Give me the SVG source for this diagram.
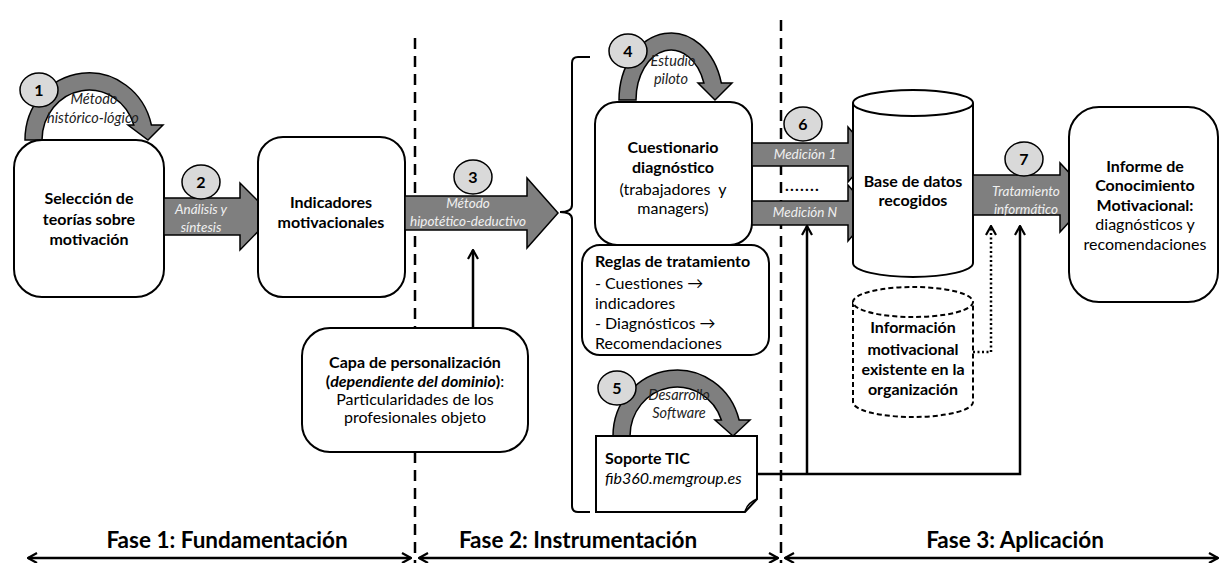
<svg xmlns="http://www.w3.org/2000/svg" width="1221" height="563" viewBox="0 0 1221 563">
<defs>
<style>
text{font-family:Lato,"DejaVu Sans",sans-serif;fill:#000}
.b{font-weight:bold;font-size:16px}
.r{font-size:16px}
.c{text-anchor:middle}
.al{font-style:italic;font-size:13.5px;fill:#f0f0f0}
.dl{font-style:italic;font-size:14.5px;fill:#222}
.num{font-weight:bold;font-size:16px;text-anchor:middle}
.ph{font-weight:bold;font-size:22.5px;text-anchor:middle}
.box{fill:#fff;stroke:#000;stroke-width:2}
.arw{fill:#7f7f7f;stroke:#000;stroke-width:1.5;stroke-linejoin:miter}
.circ{fill:#d9d9d9;stroke:#000;stroke-width:1.5}
.dash{fill:none;stroke:#000;stroke-width:2.5;stroke-dasharray:11,7}
.ln{fill:none;stroke:#000;stroke-width:2.5}
</style>
<marker id="ah" viewBox="0 0 12 12" refX="11" refY="6" markerWidth="12" markerHeight="12" markerUnits="userSpaceOnUse" orient="auto-start-reverse">
<path d="M2,1 L11,6 L2,11" fill="none" stroke="#000" stroke-width="2.2"/>
</marker>
</defs>
<rect width="1221" height="563" fill="#fff"/>

<g id="phase-lines">
<line class="dash" x1="415" y1="38" x2="415" y2="563"/>
<line class="dash" x1="781" y1="20" x2="781" y2="563"/>
</g>

<g id="connectors">
<line class="ln" x1="473" y1="328" x2="473" y2="250" marker-end="url(#ah)"/>
<polyline class="ln" points="757,474 1020,474 1020,226" marker-end="url(#ah)"/>
<line class="ln" x1="807" y1="474" x2="807" y2="226" marker-end="url(#ah)"/>
<polyline points="973,352 991,352 991,226" fill="none" stroke="#000" stroke-width="2.5" stroke-dasharray="2,2.5" marker-end="url(#ah)"/>
<path d="M590,57 H578 Q572,57 572,63 V205 Q572,212 560,212 Q572,212 572,219 V506 Q572,512 578,512 H590" fill="none" stroke="#000" stroke-width="2"/>
<line class="ln" x1="28" y1="558" x2="411" y2="558" stroke-width="2" marker-start="url(#ah)" marker-end="url(#ah)"/>
<line class="ln" x1="419" y1="558" x2="778" y2="558" stroke-width="2" marker-start="url(#ah)" marker-end="url(#ah)"/>
<line class="ln" x1="785" y1="558" x2="1218" y2="558" stroke-width="2" marker-start="url(#ah)" marker-end="url(#ah)"/>
</g>

<g id="arrow1">
<path class="arw" d="M25,140 A64,67 0 0 1 151.4,125 L163,125 L148,140 L128,125 L133.8,125 A47,50 0 0 0 42,140 Z"/>
<text class="dl c" x="94" y="104">Método</text>
<text class="dl c" x="93" y="123">histórico-lógico</text>
<ellipse class="circ" cx="39" cy="90" rx="19" ry="17"/>
<text class="num" x="39" y="95.5">1</text>
</g>

<g id="n-seleccion">
<rect class="box" x="14" y="140" width="150" height="157" rx="28"/>
<text class="b c" x="89" y="204">Selección de</text>
<text class="b c" x="89" y="225">teorías sobre</text>
<text class="b c" x="89" y="245">motivación</text>
</g>

<g id="arrow2">
<path class="arw" d="M164,198 H240 V183 L273,216 L240,250 V235 H164 Z"/>
<text class="al c" x="201" y="214">Análisis y</text>
<text class="al c" x="201" y="232">síntesis</text>
<ellipse class="circ" cx="201" cy="182" rx="19" ry="17"/>
<text class="num" x="201" y="187.5">2</text>
</g>

<g id="n-indicadores">
<rect class="box" x="258" y="137" width="147" height="160" rx="25"/>
<text class="b c" x="331" y="208">Indicadores</text>
<text class="b c" x="331" y="228">motivacionales</text>
</g>

<g id="arrow3">
<path class="arw" d="M405,196 H527 V178 L558,213 L527,248 V230 H405 Z"/>
<text class="al c" x="468" y="208">Método</text>
<text class="al c" x="468" y="226">hipotético-deductivo</text>
<ellipse class="circ" cx="473" cy="177" rx="19" ry="17"/>
<text class="num" x="473" y="182.5">3</text>
</g>

<g id="n-capa">
<rect class="box" x="302" y="328" width="226" height="124" rx="28"/>
<text class="b c" x="415" y="368">Capa de personalización</text>
<text class="r c" x="415" y="387"><tspan font-weight="bold">(</tspan><tspan font-weight="bold" font-style="italic">dependiente  del dominio</tspan><tspan font-weight="bold">)</tspan>:</text>
<text class="r c" x="415" y="405">Particularidades de los</text>
<text class="r c" x="415" y="423">profesionales objeto</text>
</g>

<g id="arrow4">
<path class="arw" d="M619,100 A52,67 0 0 1 721.3,83 L732,83 L715,100 L698,83 L703.9,83 A35,50 0 0 0 636,100 Z"/>
<text class="dl c" x="673" y="66">Estudio</text>
<text class="dl c" x="671" y="84">piloto</text>
<ellipse class="circ" cx="628" cy="51" rx="19" ry="17"/>
<text class="num" x="628" y="56.5">4</text>
</g>

<g id="n-cuestionario">
<rect class="box" x="595" y="102" width="157" height="143" rx="22"/>
<text class="b c" x="673" y="153">Cuestionario</text>
<text class="b c" x="673" y="173">diagnóstico</text>
<text class="r c" x="673" y="195" xml:space="preserve">(trabajadores  y</text>
<text class="r c" x="673" y="214">managers)</text>
</g>

<g id="n-reglas">
<rect class="box" x="582" y="245" width="187" height="110" rx="18"/>
<text class="b" x="595" y="267">Reglas de tratamiento</text>
<text class="r" x="595" y="289">- Cuestiones →</text>
<text class="r" x="595" y="309">indicadores</text>
<text class="r" x="595" y="329">- Diagnósticos →</text>
<text class="r" x="595" y="349">Recomendaciones</text>
</g>

<g id="arrow5">
<path class="arw" d="M613,436 A64,66 0 0 1 739.1,420 L750,420 L733,436 L715,420 L721.4,420 A47,49 0 0 0 630,436 Z"/>
<text class="dl c" x="679" y="400">Desarrollo</text>
<text class="dl c" x="679" y="418">Software</text>
<ellipse class="circ" cx="617" cy="388" rx="19" ry="17"/>
<text class="num" x="617" y="393.5">5</text>
</g>

<g id="n-soporte">
<path class="box" d="M596,436 H757 V499 L745,512 H596 Z"/>
<path d="M745,512 Q747,503 757,499" fill="none" stroke="#000" stroke-width="1.5"/>
<text class="b" x="605" y="464">Soporte TIC</text>
<text class="r" x="605" y="484" font-style="italic">fib360.memgroup.es</text>
</g>

<g id="arrow6">
<path class="arw" d="M752,143 H848 V127 L872,154.5 L848,182 V166 H752 Z"/>
<text class="al c" x="805" y="159">Medición 1</text>
<path class="arw" d="M752,201 H848 V185 L872,213 L848,241 V225 H752 Z"/>
<text class="al c" x="805" y="217">Medición N</text>
<text class="b" x="785" y="191" font-size="18" letter-spacing="1.2">.......</text>
<ellipse class="circ" cx="803" cy="124" rx="19" ry="17"/>
<text class="num" x="803" y="129.5">6</text>
</g>

<g id="n-basedatos">
<path class="box" d="M853,103 V263 A60,14 0 0 0 973,263 V103"/>
<ellipse class="box" cx="913" cy="103" rx="60" ry="13"/>
<text class="b c" x="913" y="187">Base de datos</text>
<text class="b c" x="913" y="206">recogidos</text>
</g>

<g id="n-informacion">
<path d="M853,302 V402 A60,15 0 0 0 973,402 V302" fill="#fff" stroke="#000" stroke-width="2" stroke-dasharray="5,3"/>
<ellipse cx="913" cy="302" rx="60" ry="15" fill="#fff" stroke="#000" stroke-width="2" stroke-dasharray="5,3"/>
<text class="b c" x="913" y="333">Información</text>
<text class="b c" x="913" y="355">motivacional</text>
<text class="b c" x="913" y="375">existente en la</text>
<text class="b c" x="913" y="395">organización</text>
</g>

<g id="arrow7">
<path class="arw" d="M973,175 H1060 V163 L1092,197 L1060,232 V215 H973 Z"/>
<text class="al c" x="1026" y="196">Tratamiento</text>
<text class="al c" x="1026" y="214">informático</text>
<ellipse class="circ" cx="1024" cy="159" rx="19" ry="17"/>
<text class="num" x="1024" y="164.5">7</text>
</g>

<g id="n-informe">
<rect class="box" x="1069" y="107" width="149" height="195" rx="30"/>
<text class="b c" x="1145" y="172">Informe de</text>
<text class="b c" x="1145" y="191">Conocimiento</text>
<text class="b c" x="1145" y="211">Motivacional:</text>
<text class="r c" x="1145" y="230">diagnósticos y</text>
<text class="r c" x="1145" y="250">recomendaciones</text>
</g>

<g id="phases">
<text class="ph" x="227" y="548">Fase 1: Fundamentación</text>
<text class="ph" x="578" y="548">Fase 2: Instrumentación</text>
<text class="ph" x="1015" y="548">Fase 3: Aplicación</text>
</g>
</svg>
